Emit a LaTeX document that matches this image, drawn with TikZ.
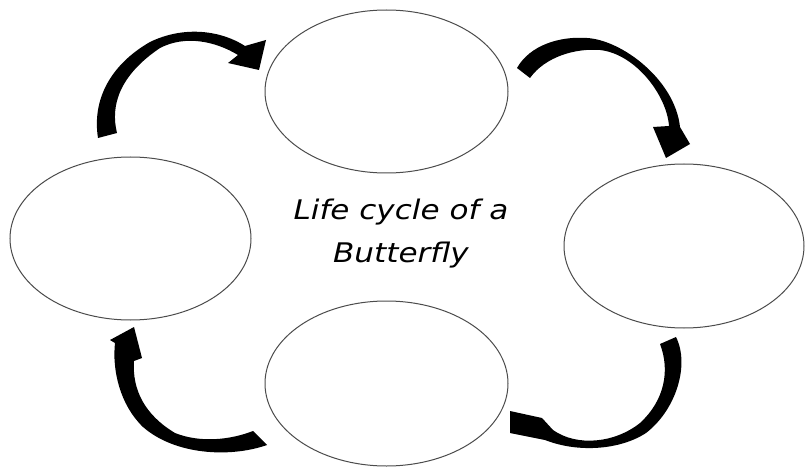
\documentclass[tikz,border=0pt]{standalone}
\usepackage{fontspec}
\newfontfamily\titlefont[FakeStretch=1.15]{DejaVu Sans}
\usetikzlibrary{shapes.geometric}
\begin{document}
\begin{tikzpicture}[x=1pt,y=-1pt,
  stage/.style={ellipse, draw=black!70, line width=1pt, inner sep=0pt},
  title/.style={font=\titlefont\itshape\fontsize{27}{42}\selectfont, anchor=base, inner sep=0pt},
  cyclearrow/.style={fill=black}]
\useasboundingbox[fill=white] (0,0) rectangle (809,468);

% stages
\node[stage, minimum width=243pt, minimum height=163pt] (egg)   at (386.5,91.5) {};
\node[stage, minimum width=240pt, minimum height=164pt] (larva) at (684,246) {};
\node[stage, minimum width=243pt, minimum height=165pt] (pupa)  at (386.5,383.5) {};
\node[stage, minimum width=241pt, minimum height=163pt] (adult) at (130.5,238.5) {};

% title
\node[title] (t1) at (401,219) {Life cycle of a};
\node[title] (t2) at (401,262) {Butterfly};

% arrow top-left
\fill[cyclearrow] (98,138) .. controls (92,100) and (110,65) .. (150,42)
  .. controls (185,25) and (222,31) .. (245,46)
  -- (266,40) -- (259,70) -- (228,63) -- (238,55)
  .. controls (215,41) and (185,35) .. (160,48)
  .. controls (120,75) and (110,105) .. (117,133) -- cycle;

% arrow top-right
\fill[cyclearrow] (517,68) .. controls (530,45) and (560,36) .. (587,38)
  .. controls (622,40) and (675,80) .. (680,127)
  -- (690,144) -- (666,158) -- (653,127) -- (669,126)
  .. controls (667,96) and (636,54) .. (600,50)
  .. controls (575,48) and (545,57) .. (530,78) -- cycle;

% arrow bottom-right
\fill[cyclearrow] (676,337) .. controls (690,365) and (676,410) .. (646,433)
  .. controls (620,450) and (578,453) .. (545,440)
  -- (510,433) -- (510,411) -- (542,418) -- (553,430)
  .. controls (577,447) and (615,443) .. (640,423)
  .. controls (665,400) and (670,370) .. (660,344) -- cycle;

% arrow bottom-left
\fill[cyclearrow] (267,445) .. controls (230,458) and (175,455) .. (143,427)
  .. controls (120,405) and (112,370) .. (115,343)
  -- (110,340) -- (134,327) -- (142,358) -- (134,361)
  .. controls (132,390) and (145,415) .. (175,433)
  .. controls (200,443) and (230,440) .. (253,431) -- cycle;
\end{tikzpicture}
\end{document}
